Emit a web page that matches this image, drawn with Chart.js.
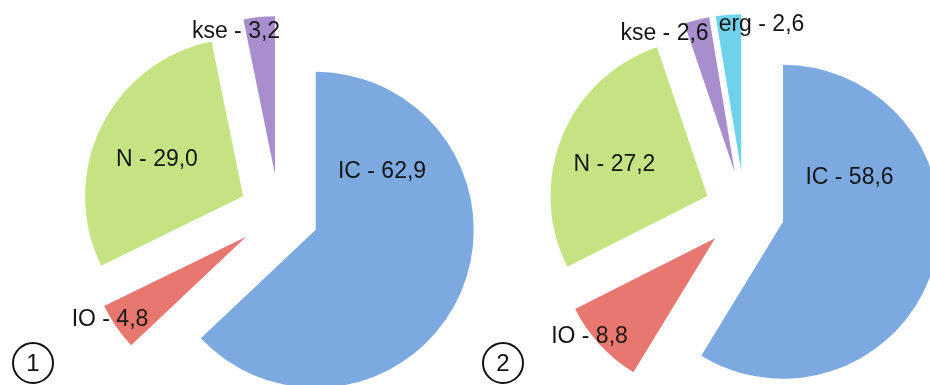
<!DOCTYPE html>
<html>
<head>
<meta charset="utf-8">
<script src="https://cdn.jsdelivr.net/npm/chart.js@4.4.1/dist/chart.umd.min.js"></script>
<style>
    html, body { margin: 0; padding: 0; background: #fff; }
    body { width: 930px; height: 385px; overflow: hidden; position: relative; font-family: "Liberation Sans", Arial, sans-serif; }
    canvas { position: absolute; top: 0; }
    #pie1 { left: 0; }
    #pie2 { left: 480px; }
    .num {
        position: absolute; width: 38px; height: 38px; border: 2px solid #111; border-radius: 50%;
        font-size: 24px; line-height: 38px; text-align: center; color: #111;
    }
</style>
</head>
<body>
<canvas id="pie1" width="558" height="428"></canvas>
<canvas id="pie2" width="529" height="422"></canvas>
<div class="num" style="left:12px; top:342px;">1</div>
<div class="num" style="left:482px; top:342px;">2</div>
<script>
// Dados
const labels1 = ['IC', 'IO', 'N', 'kse'];
const values1 = [62.9, 4.8, 29.0, 3.2];
const labels2 = ['IC', 'IO', 'N', 'kse', 'erg'];
const values2 = [58.6, 8.8, 27.2, 2.6, 2.6];

const colorMap = {
    'IC': '#7BA9E0',
    'IO': '#E8786F',
    'N': '#C6E384',
    'kse': '#A88ECC',
    'erg': '#70D2EA'
};

// posicao dos rotulos, relativa ao centro da pizza
const labelPos1 = [[103, -42], [-169, 106], [-122, -54], [-43, -182]];
const labelPos2 = [[105, -33], [-155, 126], [-130, -46], [-80, -177], [17, -186]];

const fmt = v => v.toFixed(1).replace('.', ',');

// fatias destacadas: desloca cada fatia pelo angulo medio, sem mudar o raio
const explodePlugin = {
    id: 'explode',
    beforeDatasetDraw(chart, args, opts) {
        const ctx = chart.ctx;
        args.meta.data.forEach(arc => {
            const mid = (arc.startAngle + arc.endAngle) / 2;
            ctx.save();
            ctx.translate(Math.cos(mid) * opts.dist, Math.sin(mid) * opts.dist);
            arc.draw(ctx, chart.chartArea);
            ctx.restore();
        });
        return false;
    }
};

const labelPlugin = {
    id: 'sliceLabels',
    afterDatasetsDraw(chart, args, opts) {
        const ctx = chart.ctx;
        const meta = chart.getDatasetMeta(0);
        const ds = chart.data.datasets[0];
        ctx.save();
        ctx.font = '23px "Liberation Sans", Arial, sans-serif';
        ctx.fillStyle = '#151515';
        ctx.textAlign = 'center';
        ctx.textBaseline = 'middle';
        meta.data.forEach((arc, i) => {
            const p = opts.pos[i];
            const text = chart.data.labels[i] + ' - ' + fmt(ds.data[i]);
            ctx.fillText(text, arc.x + p[0], arc.y + p[1]);
        });
        ctx.restore();
    }
};

function makePie(id, labels, values, radius, pos) {
    return new Chart(document.getElementById(id), {
        type: 'pie',
        data: {
            labels: labels,
            datasets: [{
                data: values,
                backgroundColor: labels.map(l => colorMap[l]),
                borderWidth: 0
            }]
        },
        options: {
            responsive: false,
            animation: false,
            devicePixelRatio: 1,
            radius: radius,
            layout: { padding: 0 },
            plugins: {
                legend: { display: false },
                tooltip: { enabled: false },
                explode: { dist: 40 },
                sliceLabels: { pos: pos }
            }
        },
        plugins: [explodePlugin, labelPlugin]
    });
}

makePie('pie1', labels1, values1, 158, labelPos1);
makePie('pie2', labels2, values2, 157, labelPos2);
</script>
</body>
</html>
